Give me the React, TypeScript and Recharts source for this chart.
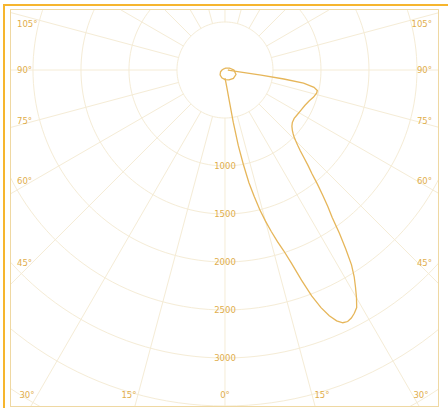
import { ScatterChart, Scatter, XAxis, YAxis, ReferenceLine, ReferenceDot } from 'recharts';

// luminous intensity rings (cd) and spokes (deg from nadir)
const ringValues = [500, 1000, 1500, 2000, 2500, 3000, 3500, 4000];
const ringLabels = [1000, 1500, 2000, 2500, 3000];
const spokeAngles = [0, 15, 30, 45, 60, 75, 90, 105, 120, 135, 150, 165, 180, 195, 210, 225, 240, 255, 270, 285, 300, 315, 330, 345];

// main lobe, angle from nadir (deg) -> intensity (cd)
const lobeAngles = [
  0, 3, 6, 8, 9, 10, 11, 12, 13, 14, 15, 16, 17, 18, 19, 20, 21, 22, 23, 24, 25, 26, 27, 28, 29, 30,
  31, 32, 33, 34, 35, 36, 37, 38, 39, 40, 41, 42, 43, 44, 45, 46, 47, 48, 50, 52, 55, 58, 62, 66, 70,
  73, 76, 77.5, 79, 80.5, 81.3, 82, 82.7, 85, 90,
];
const lobeIntensity = [
  85, 110, 180, 330, 550, 800, 1000, 1200, 1350, 1500, 1630, 1750, 1870, 1980, 2130, 2330, 2520, 2670, 2780, 2860, 2905, 2915, 2900, 2870, 2830, 2740,
  2640, 2540, 2420, 2250, 2080, 1900, 1780, 1650, 1530, 1410, 1320, 1230, 1150, 1090, 1040, 1000, 970, 945, 910, 890, 880, 885, 895, 910, 935,
  965, 985, 985, 945, 830, 620, 380, 150, 50, 30,
];

// small back loop around the centre
const loopAngles = [-180, -157.5, -135, -112.5, -90, -67.5, -45, -22.5, 0, 22.5, 45, 67.5, 90, 112.5, 135, 157.5, 180];
const loopIntensity = [16, 15, 17, 21, 31, 50, 72, 87, 100, 112, 124, 124, 93, 51, 29, 20, 16];

// frame labels
const angleLabelsLeft = ['105°', '90°', '75°', '60°', '45°'];
const angleLabelsBottom = ['30°', '15°', '0°', '15°', '30°'];

const X_DOMAIN: [number, number] = [-2229, 2219];
const Y_DOMAIN: [number, number] = [-3500, 625];

const GRID = '#f5ecd6';
const CURVE = '#e6b65a';
const TEXT = '#dfae4c';

const rad = (d: number) => (d * Math.PI) / 180;
const toXY = (deg: number, cd: number) => ({ x: cd * Math.sin(rad(deg)), y: -cd * Math.cos(rad(deg)) });

const lobeData = lobeAngles.map((a, i) => toXY(a, lobeIntensity[i]));
const loopData = loopAngles.map((a, i) => toXY(a, loopIntensity[i]));

const ringData = ringValues.map(r => {
  const pts = [];
  for (let a = 0; a <= 360; a += 2) pts.push(toXY(a, r));
  return pts;
});

// spoke from the 500 ring out to the plot edge
const spokeEnd = (deg: number) => {
  const s = Math.sin(rad(deg));
  const c = -Math.cos(rad(deg));
  let t = Infinity;
  if (s > 1e-9) t = Math.min(t, X_DOMAIN[1] / s);
  if (s < -1e-9) t = Math.min(t, X_DOMAIN[0] / s);
  if (c > 1e-9) t = Math.min(t, Y_DOMAIN[1] / c);
  if (c < -1e-9) t = Math.min(t, Y_DOMAIN[0] / c);
  return { x: t * s, y: t * c };
};

const Empty = () => <g />;

// label layout (pixels)
const leftY = [24, 70, 121, 181, 263];
const bottomX = [27, 129, 225, 322, 421];

export default function App() {
  return (
    <div style={{ position: 'absolute', left: 0, top: 0, width: 448, height: 408, background: '#fff', overflow: 'hidden' }}>
      <div style={{ position: 'absolute', left: 3, top: 4, width: 445, height: 404, boxSizing: 'border-box', borderLeft: '2.5px solid #f6b52e', borderTop: '2.5px solid #f6b52e' }} />
      <div style={{ position: 'absolute', left: 10, top: 9, width: 429, height: 398, boxSizing: 'border-box', border: '1.5px solid #efd8a2' }} />
      <div style={{ position: 'absolute', left: 0, top: 0 }}>
        <ScatterChart width={448} height={408} margin={{ top: 10, right: 10, bottom: 2, left: 11 }}>
          <XAxis type="number" dataKey="x" domain={X_DOMAIN} allowDataOverflow hide />
          <YAxis type="number" dataKey="y" domain={Y_DOMAIN} allowDataOverflow hide />
          {spokeAngles.map(a => (
            <ReferenceLine
              key={`s${a}`}
              segment={[toXY(a, 500), spokeEnd(a)]}
              stroke={GRID}
              strokeWidth={1}
              ifOverflow="visible"
            />
          ))}
          {ringData.map((pts, i) => (
            <Scatter
              key={`r${i}`}
              data={pts}
              fill={GRID}
              line={{ stroke: GRID, strokeWidth: 1 }}
              lineType="joint"
              shape={Empty}
              isAnimationActive={false}
            />
          ))}
          <Scatter data={loopData} fill={CURVE} line={{ stroke: CURVE, strokeWidth: 1.3 }} lineType="joint" shape={Empty} isAnimationActive={false} />
          <Scatter data={lobeData} fill={CURVE} line={{ stroke: CURVE, strokeWidth: 1.3 }} lineType="joint" shape={Empty} isAnimationActive={false} />
          {ringLabels.map(v => (
            <ReferenceDot
              key={`l${v}`}
              x={0}
              y={-v}
              r={0}
              ifOverflow="visible"
              label={{ value: String(v), position: 'center', fill: TEXT, fontSize: 8.5, fontFamily: 'DejaVu Sans' }}
            />
          ))}
        </ScatterChart>
      </div>
      <svg width={448} height={408} style={{ position: 'absolute', left: 0, top: 0, pointerEvents: 'none' }}>
        <g fill={TEXT} fontSize={8.5} fontFamily="DejaVu Sans" dominantBaseline="central">
          {angleLabelsLeft.map((t, i) => (
            <text key={`al${i}`} x={17} y={leftY[i]} textAnchor="start">{t}</text>
          ))}
          {angleLabelsLeft.map((t, i) => (
            <text key={`ar${i}`} x={432} y={leftY[i]} textAnchor="end">{t}</text>
          ))}
          {angleLabelsBottom.map((t, i) => (
            <text key={`ab${i}`} x={bottomX[i]} y={395} textAnchor="middle">{t}</text>
          ))}
        </g>
      </svg>
    </div>
  );
}
